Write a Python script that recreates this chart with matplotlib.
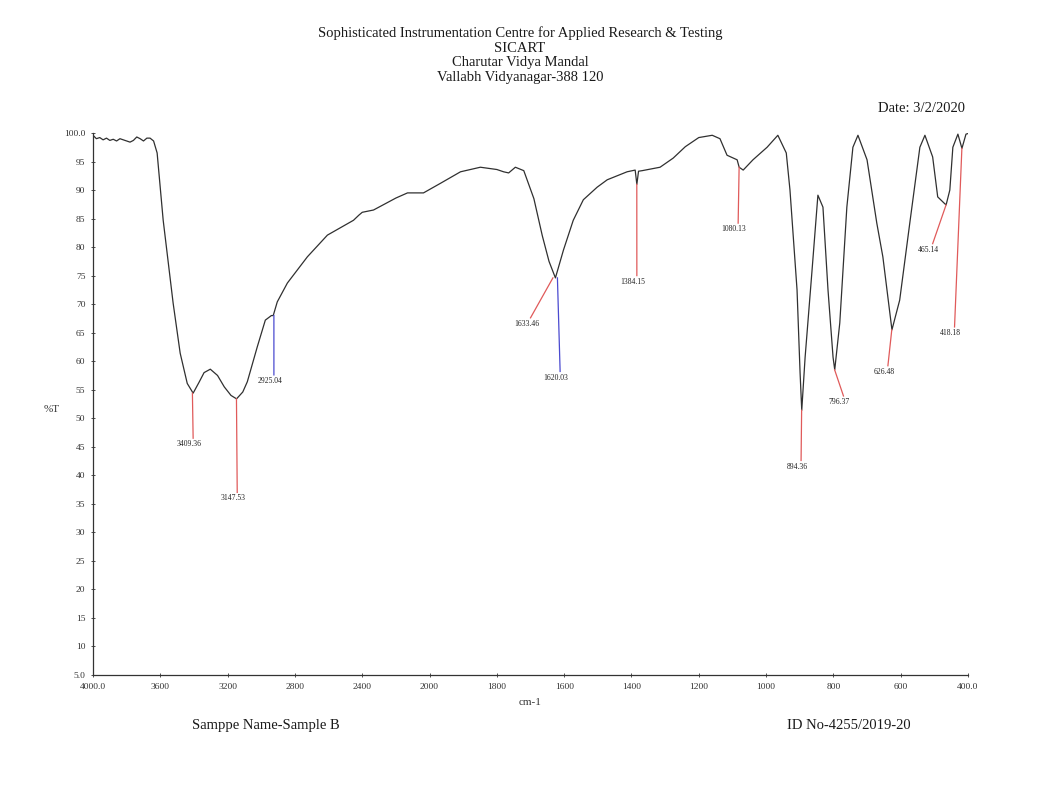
import numpy as np
import matplotlib
matplotlib.use("Agg")
import matplotlib.pyplot as plt

plt.rcParams['font.family'] = ['Liberation Serif', 'DejaVu Serif']

# spectrum (wavenumber cm-1, %T)
wavenumber = [4000, 3980, 3960, 3940, 3920, 3900, 3880, 3860, 3840, 3820, 3800,
              3780, 3760, 3740, 3720, 3700, 3680, 3661, 3640, 3619, 3583, 3524,
              3482, 3440, 3405, 3370, 3340, 3303, 3260, 3220, 3180, 3147, 3110,
              3083, 3024, 2976, 2940, 2929, 2905, 2845, 2726, 2607, 2452, 2420,
              2400, 2333, 2200, 2131, 2036, 1967, 1908, 1849, 1800, 1780, 1765,
              1745, 1720, 1690, 1665, 1645, 1626, 1602, 1573, 1543, 1502, 1472,
              1413, 1389, 1384, 1379, 1368, 1315, 1276, 1240, 1200, 1160, 1137,
              1116, 1086, 1080, 1068, 1039, 997, 965, 940, 929, 908, 899, 894,
              884, 864, 846, 831, 816, 801, 796, 781, 760, 742, 727, 700, 671,
              653, 626, 603, 573, 543, 528, 505, 490, 469, 465, 454, 445, 430,
              418, 406, 400]
transmittance = [99.6, 99.0, 99.2, 98.8, 99.1, 98.7, 98.9, 98.6, 99.0, 98.8, 98.6,
                 98.4, 98.7, 99.3, 99.0, 98.6, 99.1, 99.1, 98.6, 96.5, 84.7, 70.2,
                 61.4, 56.1, 54.4, 56.3, 58.0, 58.6, 57.5, 55.5, 54.0, 53.4, 54.6,
                 56.4, 62.5, 67.2, 68.0, 68.0, 70.4, 73.7, 78.3, 82.1, 84.7, 85.6,
                 86.1, 86.5, 88.6, 89.5, 89.5, 91.2, 93.2, 94.0, 93.6, 93.2, 93.0,
                 94.0, 93.4, 88.5, 82.0, 77.5, 74.6, 79.5, 84.7, 88.3, 90.5, 91.8,
                 93.2, 93.5, 91.0, 93.3, 93.4, 94.0, 95.6, 97.6, 99.2, 99.6, 99.0,
                 96.1, 95.3, 94.0, 93.5, 95.3, 97.5, 99.6, 96.5, 90.0, 72.5, 58.0,
                 51.4, 60.7, 75.5, 89.1, 87.0, 72.5, 60.7, 58.5, 66.7, 87.0, 97.5,
                 99.6, 95.3, 84.2, 78.3, 65.5, 70.7, 84.2, 97.5, 99.6, 95.8, 88.8,
                 87.6, 87.4, 90.0, 97.5, 99.8, 97.3, 99.8, 99.9]

# picked peaks
peak_wn = [3409.36, 3147.53, 2925.04, 1633.46, 1620.03, 1384.15, 1080.13,
           894.36, 796.37, 626.48, 465.14, 418.18]
peak_t = [54.4, 53.4, 68.0, 74.6, 74.6, 91.0, 94.0, 51.4, 58.5, 65.5, 87.4, 97.3]
peak_color = ['#e05a5a', '#e05a5a', '#4a4ad0', '#e05a5a', '#4a4ad0', '#e05a5a',
              '#e05a5a', '#e05a5a', '#e05a5a', '#e05a5a', '#e05a5a', '#e05a5a']
# where each label ends (wavenumber, %T)
label_wn = [3405, 3143, 2925, 1700, 1612, 1384, 1083, 896, 770, 638, 505, 440]
label_t = [46.5, 37.0, 57.6, 67.6, 58.2, 75.0, 84.2, 42.6, 53.9, 59.2, 80.6, 66.0]

xticks = [4000, 3600, 3200, 2800, 2400, 2000, 1800, 1600, 1400, 1200, 1000, 800, 600, 400]
xticklabels = ['4000.0', '3600', '3200', '2800', '2400', '2000', '1800', '1600',
               '1400', '1200', '1000', '800', '600', '400.0']
yticks = list(range(5, 101, 5))
yticklabels = ['5.0'] + [str(v) for v in range(10, 100, 5)] + ['100.0']


def fwd(x):
    x = np.asarray(x, dtype=float)
    return np.where(x >= 2000, x, 2 * x - 2000)


def inv(u):
    u = np.asarray(u, dtype=float)
    return np.where(u >= 2000, u, (u + 2000) / 2)


fig = plt.figure(figsize=(10.44, 7.94), dpi=100)
ax = fig.add_axes([0.0891, 0.1499, 0.8381, 0.6826])
ax.set_xscale('function', functions=(fwd, inv))
ax.plot(wavenumber, transmittance, color='#303030', lw=0.9)

for i in range(len(peak_wn)):
    ax.plot([peak_wn[i], label_wn[i]], [peak_t[i], label_t[i]],
            color=peak_color[i], lw=0.9)
    ax.annotate('%.2f' % peak_wn[i], (label_wn[i], label_t[i]),
                xytext=(-3, -1.5), textcoords='offset points', fontsize=5.5,
                ha='center', va='top', color='#222222')

ax.set_xlim(4000, 400)
ax.set_ylim(5, 100)
ax.set_xticks(xticks)
ax.set_xticklabels(xticklabels)
ax.set_yticks(yticks)
ax.set_yticklabels(yticklabels)
ax.tick_params(labelsize=6.8, length=3, width=0.6, direction='inout',
               colors='#333333', pad=4)
for s in ['top', 'right']:
    ax.spines[s].set_visible(False)
for s in ['left', 'bottom']:
    ax.spines[s].set_color('#333333')
    ax.spines[s].set_linewidth(0.9)

title_lines = ['Sophisticated Instrumentation Centre for Applied Research & Testing',
               'SICART', 'Charutar Vidya Mandal', 'Vallabh Vidyanagar-388 120']
for k, line in enumerate(title_lines):
    fig.text(0.498, 0.958 - k * 0.0185, line, ha='center', va='center',
             fontsize=10.5, color='#1a1a1a')
fig.text(0.924, 0.863, 'Date: 3/2/2020', ha='right', va='center', fontsize=10.5,
         color='#1a1a1a')
fig.text(0.049, 0.484, '%T', ha='center', va='center', fontsize=8, color='#333333')
fig.text(0.508, 0.115, 'cm-1', ha='center', va='center', fontsize=8, color='#333333')
fig.text(0.184, 0.086, 'Samppe Name-Sample B', ha='left', va='center', fontsize=10.5,
         color='#1a1a1a')
fig.text(0.754, 0.086, 'ID No-4255/2019-20', ha='left', va='center', fontsize=10.5,
         color='#1a1a1a')

fig.savefig('out.png', dpi=100, facecolor='white')
